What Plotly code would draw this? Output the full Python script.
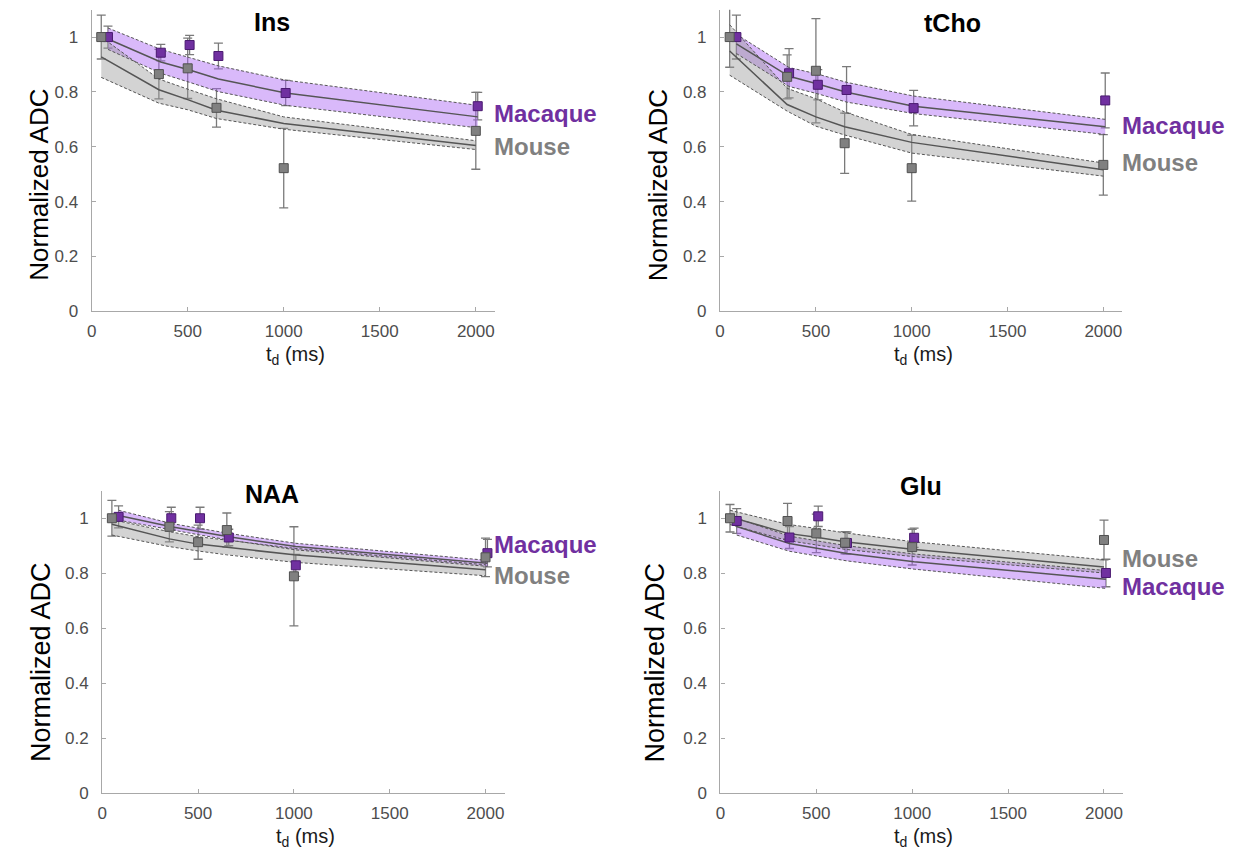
import plotly.graph_objects as go

W, H = 1240, 861

# ---------------- data ----------------
mouse_td = [50, 350, 500, 650, 1000, 2000]
macaque_td = [85, 360, 510, 660, 1010, 2010]

# Ins
ins_mouse_adc = [1.0, 0.865, 0.886, 0.742, 0.522, 0.658]
ins_mouse_err = [0.08, 0.09, 0.11, 0.07, 0.145, 0.14]
ins_mac_adc = [1.0, 0.943, 0.971, 0.931, 0.796, 0.748]
ins_mac_err = [0.04, 0.03, 0.035, 0.047, 0.046, 0.05]
ins_mouse_fit = [0.928, 0.808, 0.772, 0.733, 0.685, 0.605]
ins_mouse_lo = [0.853, 0.759, 0.735, 0.703, 0.664, 0.59]
ins_mouse_hi = [1.0, 0.847, 0.81, 0.775, 0.709, 0.622]
ins_mac_fit = [0.993, 0.909, 0.880, 0.847, 0.796, 0.709]
ins_mac_lo = [0.955, 0.868, 0.835, 0.801, 0.751, 0.669]
ins_mac_hi = [1.033, 0.955, 0.925, 0.895, 0.843, 0.751]

# tCho
tcho_mouse_adc = [1.0, 0.855, 0.877, 0.613, 0.522, 0.534]
tcho_mouse_err = [0.11, 0.08, 0.19, 0.11, 0.12, 0.11]
tcho_mac_adc = [1.0, 0.868, 0.826, 0.807, 0.741, 0.769]
tcho_mac_err = [0.08, 0.09, 0.055, 0.085, 0.065, 0.1]
tcho_mouse_fit = [0.949, 0.754, 0.709, 0.673, 0.616, 0.516]
tcho_mouse_lo = [0.861, 0.73, 0.675, 0.643, 0.577, 0.493]
tcho_mouse_hi = [1.045, 0.813, 0.775, 0.727, 0.645, 0.541]
tcho_mac_fit = [0.975, 0.857, 0.829, 0.799, 0.748, 0.673]
tcho_mac_lo = [0.94, 0.82, 0.793, 0.763, 0.721, 0.645]
tcho_mac_hi = [1.01, 0.889, 0.865, 0.835, 0.785, 0.70]

# NAA
naa_mouse_adc = [1.0, 0.969, 0.913, 0.957, 0.789, 0.858]
naa_mouse_err = [0.065, 0.055, 0.062, 0.062, 0.18, 0.07]
naa_mac_adc = [1.005, 1.0, 1.0, 0.93, 0.829, 0.873]
naa_mac_err = [0.04, 0.04, 0.04, 0.03, 0.04, 0.05]
naa_mouse_fit = [0.978, 0.925, 0.906, 0.895, 0.867, 0.813]
naa_mouse_lo = [0.939, 0.897, 0.881, 0.867, 0.840, 0.791]
naa_mouse_hi = [0.995, 0.951, 0.933, 0.921, 0.891, 0.831]
naa_mac_fit = [1.01, 0.969, 0.951, 0.933, 0.897, 0.836]
naa_mac_lo = [0.993, 0.957, 0.939, 0.921, 0.885, 0.825]
naa_mac_hi = [1.029, 0.981, 0.963, 0.945, 0.909, 0.847]

# Glu
glu_mouse_adc = [1.0, 0.99, 0.945, 0.911, 0.895, 0.921]
glu_mouse_err = [0.05, 0.064, 0.07, 0.04, 0.065, 0.072]
glu_mac_adc = [0.99, 0.93, 1.007, 0.91, 0.929, 0.801]
glu_mac_err = [0.045, 0.04, 0.037, 0.04, 0.035, 0.05]
glu_mouse_fit = [1.005, 0.945, 0.931, 0.915, 0.887, 0.823]
glu_mouse_lo = [0.977, 0.919, 0.903, 0.887, 0.861, 0.801]
glu_mouse_hi = [1.029, 0.978, 0.963, 0.947, 0.915, 0.849]
glu_mac_fit = [0.97, 0.908, 0.89, 0.872, 0.842, 0.778]
glu_mac_lo = [0.939, 0.88, 0.862, 0.845, 0.815, 0.745]
glu_mac_hi = [1.0, 0.935, 0.917, 0.9, 0.87, 0.81]

panel_titles = ["Ins", "tCho", "NAA", "Glu"]
x_ticks = [0, 500, 1000, 1500, 2000]
y_ticks = [0, 0.2, 0.4, 0.6, 0.8, 1.0]
y_ticktext = ["0", "0.2", "0.4", "0.6", "0.8", "1"]

# ---------------- style ----------------
FONT = "Liberation Sans, Arial, sans-serif"
PURPLE = "#7030A0"
PURPLE_EDGE = "#4A1A70"
GRAY = "#808080"
GRAY_EDGE = "#505050"
PURPLE_FILL = "rgba(170,100,245,0.45)"
GRAY_FILL = "rgba(150,150,150,0.42)"
LINE_DARK = "#555555"
ERR_COLOR = "#7a7a7a"

# panel pixel boxes: (left, right, top, bottom)
boxes = [
    (87, 492, 9.75, 315),
    (718, 1122, 9.75, 315),
    (97.7, 501.7, 496.5, 802.7),
    (718.3, 1122.7, 496.5, 802.7),
]

panels = [
    dict(m=ins_mouse_adc, me=ins_mouse_err, q=ins_mac_adc, qe=ins_mac_err,
         mf=ins_mouse_fit, ml=ins_mouse_lo, mh=ins_mouse_hi,
         qf=ins_mac_fit, ql=ins_mac_lo, qh=ins_mac_hi),
    dict(m=tcho_mouse_adc, me=tcho_mouse_err, q=tcho_mac_adc, qe=tcho_mac_err,
         mf=tcho_mouse_fit, ml=tcho_mouse_lo, mh=tcho_mouse_hi,
         qf=tcho_mac_fit, ql=tcho_mac_lo, qh=tcho_mac_hi),
    dict(m=naa_mouse_adc, me=naa_mouse_err, q=naa_mac_adc, qe=naa_mac_err,
         mf=naa_mouse_fit, ml=naa_mouse_lo, mh=naa_mouse_hi,
         qf=naa_mac_fit, ql=naa_mac_lo, qh=naa_mac_hi),
    dict(m=glu_mouse_adc, me=glu_mouse_err, q=glu_mac_adc, qe=glu_mac_err,
         mf=glu_mouse_fit, ml=glu_mouse_lo, mh=glu_mouse_hi,
         qf=glu_mac_fit, ql=glu_mac_lo, qh=glu_mac_hi),
]

fig = go.Figure()

for i, (p, box) in enumerate(zip(panels, boxes)):
    n = "" if i == 0 else str(i + 1)
    xa, ya = "x" + n, "y" + n
    common = dict(xaxis=xa, yaxis=ya, showlegend=False, hoverinfo="skip")

    # error bars (drawn first so bands tint them)
    fig.add_trace(go.Scatter(x=macaque_td, y=p["q"], mode="markers",
                             marker=dict(size=1, opacity=0),
                             error_y=dict(type="data", array=p["qe"], visible=True,
                                          color=ERR_COLOR, thickness=1.3, width=4.5),
                             **common))
    fig.add_trace(go.Scatter(x=mouse_td, y=p["m"], mode="markers",
                             marker=dict(size=1, opacity=0),
                             error_y=dict(type="data", array=p["me"], visible=True,
                                          color=ERR_COLOR, thickness=1.3, width=4.5),
                             **common))
    # bands
    for td, lo, hi, fill in [(macaque_td, p["ql"], p["qh"], PURPLE_FILL),
                             (mouse_td, p["ml"], p["mh"], GRAY_FILL)]:
        fig.add_trace(go.Scatter(x=list(td) + list(td)[::-1],
                                 y=list(hi) + list(lo)[::-1],
                                 mode="lines", fill="toself", fillcolor=fill,
                                 line=dict(width=0), **common))
    for td, lo, hi in [(macaque_td, p["ql"], p["qh"]), (mouse_td, p["ml"], p["mh"])]:
        for arr in (lo, hi):
            fig.add_trace(go.Scatter(x=td, y=arr, mode="lines",
                                     line=dict(color="#555555", width=1, dash="3px,2px"),
                                     **common))
    # fitted lines
    for td, f in [(macaque_td, p["qf"]), (mouse_td, p["mf"])]:
        fig.add_trace(go.Scatter(x=td, y=f, mode="lines",
                                 line=dict(color=LINE_DARK, width=1.5), **common))
    # markers
    fig.add_trace(go.Scatter(x=macaque_td, y=p["q"], mode="markers",
                             marker=dict(symbol="square", size=9, color=PURPLE,
                                         line=dict(color=PURPLE_EDGE, width=1)),
                             **common))
    fig.add_trace(go.Scatter(x=mouse_td, y=p["m"], mode="markers",
                             marker=dict(symbol="square", size=9, color=GRAY,
                                         line=dict(color=GRAY_EDGE, width=1)),
                             **common))

    l, r, t, b = box
    axis_common = dict(showgrid=False, zeroline=False, showline=True,
                       linecolor="#a8a8a8", linewidth=1.3, ticks="inside",
                       ticklen=4, tickcolor="#a8a8a8", mirror=False,
                       tickfont=dict(family=FONT, size=17, color="#4d4d4d"))
    fig.update_layout(**{
        ("xaxis" + n): dict(domain=[l / W, r / W], range=[0, 2100],
                            tickvals=x_ticks, anchor=ya, ticklabelstandoff=4,
                            **axis_common),
        ("yaxis" + n): dict(domain=[1 - b / H, 1 - t / H], range=[0, 1.1],
                            tickvals=y_ticks, ticktext=y_ticktext,
                            anchor=xa, ticklabelstandoff=9, **axis_common),
    })

annotations = []

def ann(text, px, py, size, color="#000000", bold=False, xanchor="center",
        yanchor="middle", angle=0):
    annotations.append(dict(
        text=("<b>%s</b>" % text) if bold else text,
        x=px / W, y=1 - py / H, xref="paper", yref="paper",
        xanchor=xanchor, yanchor=yanchor, showarrow=False, textangle=angle,
        font=dict(family=FONT, size=size, color=color)))

# panel titles
title_pos = [(268, 22), (951, 23), (268, 500), (920, 492)]
for t, (px, py) in zip(panel_titles, title_pos):
    ann(t, px, py, 25, bold=True)

# axis titles
ylab_pos = [(34, 187, 26), (655, 187, 26), (36, 670, 27), (653, 670, 27)]
for (l, r, t, b), (yx, yy, ys) in zip(boxes, ylab_pos):
    ann("t<sub>d</sub> (ms)", (l + r) / 2 + 2, b + 45, 20, color="#1a1a1a")
    ann("Normalized ADC", yx, yy, ys, color="#000000", angle=-90)

# species labels
labels = [
    ("Macaque", 489, 115, PURPLE), ("Mouse", 489, 148, GRAY),
    ("Macaque", 1120, 127, PURPLE), ("Mouse", 1120, 164, GRAY),
    ("Macaque", 489, 551, PURPLE), ("Mouse", 489, 582, GRAY),
    ("Mouse", 1120, 565, GRAY), ("Macaque", 1120, 593, PURPLE),
]
for txt, px, py, c in labels:
    ann(txt, px, py, 24, color=c, bold=True, xanchor="left")

fig.update_layout(width=W, height=H, margin=dict(l=0, r=0, t=0, b=0),
                  paper_bgcolor="white", plot_bgcolor="white",
                  annotations=annotations, showlegend=False)

fig.write_html("out.html")
